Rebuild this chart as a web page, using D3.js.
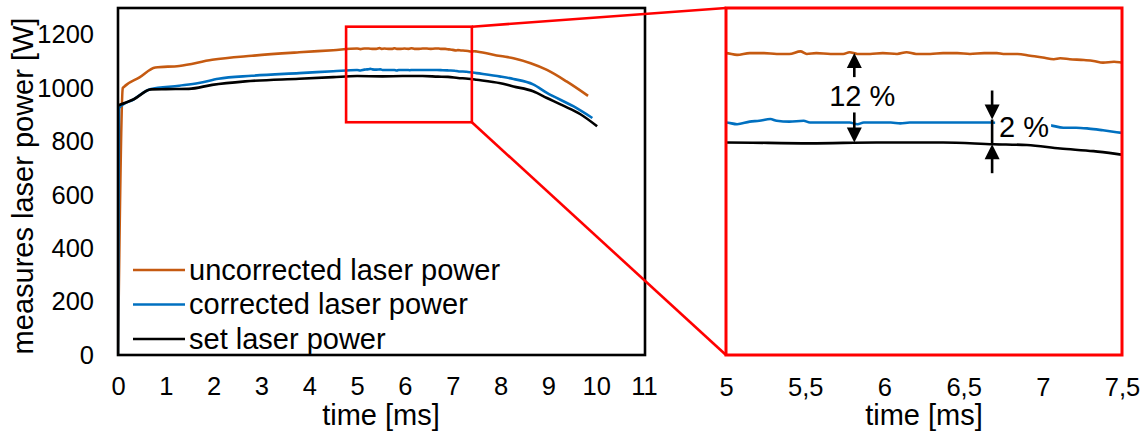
<!DOCTYPE html>
<html>
<head>
<meta charset="utf-8">
<script src="https://cdn.jsdelivr.net/npm/d3@7"></script>
<style>
  body { margin: 0; background: #fff; }
  svg { display: block; font-family: "Liberation Sans", Arial, sans-serif; }
</style>
</head>
<body>
<svg id="chart" width="1147" height="433"></svg>
<script>
// uncorrected laser power (orange)
var uncorrectedTime = [0, 0.1, 0.12, 0.45, 0.78, 1.28, 1.97, 2.8, 3.79, 4.5,
  5.0, 5.07, 5.15, 5.24, 5.32, 5.4, 5.47, 5.51, 5.57, 5.66, 5.74, 5.78, 5.83, 5.91, 5.99,
  6.08, 6.14, 6.2, 6.29, 6.37, 6.46, 6.54, 6.63, 6.71, 6.75, 6.84, 6.92, 7.0, 7.07, 7.11,
  7.17, 7.26, 7.32, 7.38, 7.45, 7.5, 8.0, 8.27, 8.63, 8.97, 9.38, 9.83];
var uncorrectedPower = [0, 1000, 1004, 1040, 1077, 1083, 1106, 1121, 1134, 1142,
  1148, 1146, 1148, 1148, 1147, 1147, 1150, 1147, 1148, 1147, 1147, 1149, 1147, 1147, 1148,
  1147, 1149, 1147, 1147, 1148, 1148, 1147, 1148, 1148, 1147, 1147, 1145, 1143, 1141, 1142,
  1141, 1140, 1139, 1137, 1138, 1137, 1120, 1112, 1093, 1068, 1025, 971];

// corrected laser power (blue)
var correctedTime = [0, 0.02, 0.33, 0.67, 1.28, 1.69, 2.1, 2.8, 3.79, 4.5,
  5.0, 5.07, 5.15, 5.21, 5.28, 5.32, 5.4, 5.49, 5.53, 5.61, 5.7, 5.78, 5.83, 5.87, 5.95,
  6.04, 6.1, 6.16, 6.25, 6.33, 6.41, 6.5, 6.58, 6.67, 6.79, 6.92, 7.04, 7.13, 7.21, 7.29,
  7.38, 7.5, 8.0, 8.27, 8.68, 8.97, 9.52, 9.92];
var correctedPower = [0, 925, 958, 996, 1009, 1019, 1035, 1046, 1056, 1063,
  1068, 1066, 1069, 1070, 1072, 1070, 1069, 1070, 1068, 1068, 1068, 1068, 1066, 1068, 1068,
  1068, 1067, 1068, 1068, 1068, 1068, 1068, 1068, 1068, 1067, 1066, 1065, 1062, 1062, 1061,
  1059, 1056, 1043, 1034, 1014, 982, 932, 888];

// set laser power (black)
var setTime = [0, 0.33, 0.69, 1.0, 1.48, 1.97, 2.66, 3.79, 4.5, 5.0, 5.53, 5.95, 6.37,
  6.69, 6.9, 7.11, 7.32, 7.5, 8.0, 8.27, 8.68, 8.97, 9.3, 9.67, 10.02];
var setPower = [935, 958, 995, 996, 997, 1012, 1025, 1035, 1041, 1045, 1044, 1045, 1045,
  1043, 1042, 1038, 1035, 1031, 1018, 1006, 988, 963, 935, 902, 857];

var timeTicks = [0, 1, 2, 3, 4, 5, 6, 7, 8, 9, 10, 11];
var powerTicks = [0, 200, 400, 600, 800, 1000, 1200];
var zoomTicks = [5, 5.5, 6, 6.5, 7, 7.5];
var zoomTickLabels = ['5', '5,5', '6', '6,5', '7', '7,5'];

// region marked in the overview [t0, t1, p0, p1]
var zoomRegion = [4.77, 7.4, 872, 1230];

// gap annotations: time, upper power, lower power, label
var gapTime = [5.81, 6.68];
var gapUpper = [1148, 1068];
var gapLower = [1045, 1043];
var gapLabels = ['12 %', '2 %'];

var series = [
  { name: 'uncorrected laser power', color: '#C55A11', t: uncorrectedTime, p: uncorrectedPower },
  { name: 'corrected laser power', color: '#0070C0', t: correctedTime, p: correctedPower },
  { name: 'set laser power', color: '#000000', t: setTime, p: setPower }
];

var svg = d3.select('#chart');
var tickFont = 25.5, labelFont = 29;

var x = d3.scaleLinear().domain([0, 11]).range([118, 644]);
var y = d3.scaleLinear().domain([0, 1300]).range([355, 8]);
var xz = d3.scaleLinear().domain([5, 7.5]).range([726, 1122]);
var yz = d3.scaleLinear().domain([800, 1200]).range([355, 8]);

var defs = svg.append('defs');
defs.append('clipPath').attr('id', 'clipL').append('rect')
  .attr('x', x(0)).attr('y', y(1300)).attr('width', x(11) - x(0) + 2).attr('height', y(0) - y(1300));
defs.append('clipPath').attr('id', 'clipR').append('rect')
  .attr('x', xz(5)).attr('y', yz(1200)).attr('width', xz(7.5) - xz(5)).attr('height', yz(800) - yz(1200));

function drawLines(g, sx, sy) {
  series.forEach(function(s) {
    var pts = s.t.map(function(t, i) { return [t, s.p[i]]; });
    g.append('path')
      .datum(pts)
      .attr('fill', 'none')
      .attr('stroke', s.color)
      .attr('stroke-width', 2.6)
      .attr('stroke-linejoin', 'round')
      .attr('d', d3.line()
        .curve(d3.curveMonotoneX)
        .x(function(d) { return sx(d[0]); })
        .y(function(d) { return sy(d[1]); }));
  });
}

function styleAxis(g, size) {
  g.select('.domain').remove();
  g.selectAll('text').attr('font-size', size).attr('font-family', null).attr('fill', '#000');
}

// overview
drawLines(svg.append('g').attr('clip-path', 'url(#clipL)'), x, y);

svg.append('g')
  .attr('transform', 'translate(0,' + y(0) + ')')
  .call(d3.axisBottom(x).tickValues(timeTicks).tickSize(0).tickPadding(22).tickFormat(d3.format('d')))
  .call(styleAxis, tickFont);

svg.append('g')
  .attr('transform', 'translate(' + x(0) + ',0)')
  .call(d3.axisLeft(y).tickValues(powerTicks).tickSize(0).tickPadding(24).tickFormat(d3.format('d')))
  .call(styleAxis, tickFont);

svg.append('rect')
  .attr('x', x(0)).attr('y', y(1300))
  .attr('width', x(11) - x(0) + 1).attr('height', y(0) - y(1300))
  .attr('fill', 'none').attr('stroke', '#000').attr('stroke-width', 2.6);

svg.append('text')
  .attr('x', (x(0) + x(11)) / 2).attr('y', 425)
  .attr('text-anchor', 'middle').attr('font-size', labelFont)
  .text('time [ms]');

svg.append('text')
  .attr('transform', 'translate(33,186) rotate(-90)')
  .attr('text-anchor', 'middle').attr('font-size', labelFont)
  .text('measures laser power [W]');

// legend
var legend = svg.append('g').selectAll('g')
  .data(series)
  .enter().append('g')
  .attr('transform', function(d, i) { return 'translate(133,' + (270 + i * 34.5) + ')'; });
legend.append('line')
  .attr('x1', 0).attr('x2', 52)
  .attr('stroke', function(d) { return d.color; }).attr('stroke-width', 2.6);
legend.append('text')
  .attr('x', 56).attr('y', 9.5)
  .attr('font-size', labelFont)
  .text(function(d) { return d.name; });

// zoom marker + connectors
var bx0 = x(zoomRegion[0]), bx1 = x(zoomRegion[1]);
var by0 = y(zoomRegion[3]), by1 = y(zoomRegion[2]);
svg.append('line')
  .attr('x1', bx1).attr('y1', by0).attr('x2', xz(5)).attr('y2', yz(1200))
  .attr('stroke', '#FF0000').attr('stroke-width', 2.6);
svg.append('line')
  .attr('x1', bx1).attr('y1', by1).attr('x2', xz(5)).attr('y2', yz(800))
  .attr('stroke', '#FF0000').attr('stroke-width', 2.6);
svg.append('rect')
  .attr('x', bx0).attr('y', by0).attr('width', bx1 - bx0).attr('height', by1 - by0)
  .attr('fill', 'none').attr('stroke', '#FF0000').attr('stroke-width', 2.6);

// zoomed panel
drawLines(svg.append('g').attr('clip-path', 'url(#clipR)'), xz, yz);

svg.append('g')
  .attr('transform', 'translate(0,' + yz(800) + ')')
  .call(d3.axisBottom(xz).tickValues(zoomTicks).tickSize(0).tickPadding(23)
    .tickFormat(function(d, i) { return zoomTickLabels[i]; }))
  .call(styleAxis, tickFont);

svg.append('text')
  .attr('x', (xz(5) + xz(7.5)) / 2).attr('y', 425)
  .attr('text-anchor', 'middle').attr('font-size', labelFont)
  .text('time [ms]');

// gap arrows
function arrow(g, ax, tip, tail) {
  var dir = tail > tip ? 1 : -1;
  g.append('line')
    .attr('x1', ax).attr('x2', ax).attr('y1', tail).attr('y2', tip + dir * 12)
    .attr('stroke', '#000').attr('stroke-width', 2.6);
  g.append('path')
    .attr('d', 'M' + ax + ',' + tip + 'L' + (ax - 7.5) + ',' + (tip + dir * 15) +
      'L' + (ax + 7.5) + ',' + (tip + dir * 15) + 'Z')
    .attr('fill', '#000');
}

var ann = svg.append('g');

// 12 %
var a0 = xz(gapTime[0]);
arrow(ann, a0, yz(gapUpper[0]), yz(gapUpper[0]) + 24);
arrow(ann, a0, yz(gapLower[0]), yz(gapLower[0]) - 30);
ann.append('text')
  .attr('x', a0 + 8).attr('y', 106)
  .attr('text-anchor', 'middle').attr('font-size', labelFont)
  .text(gapLabels[0]);

// 2 %
var a1 = xz(gapTime[1]);
ann.append('rect')
  .attr('x', a1 + 3).attr('y', 110).attr('width', 56).attr('height', 29)
  .attr('fill', '#fff');
arrow(ann, a1, yz(gapUpper[1]) - 3, yz(gapUpper[1]) - 32);
arrow(ann, a1, yz(gapLower[1]), yz(gapLower[1]) + 29);
ann.append('line')
  .attr('x1', a1).attr('x2', a1).attr('y1', yz(gapUpper[1]) - 3).attr('y2', yz(gapLower[1]))
  .attr('stroke', '#000').attr('stroke-width', 2.6);
ann.append('text')
  .attr('x', a1 + 7).attr('y', 137)
  .attr('font-size', labelFont)
  .text(gapLabels[1]);

svg.append('rect')
  .attr('x', xz(5)).attr('y', yz(1200))
  .attr('width', xz(7.5) - xz(5)).attr('height', yz(800) - yz(1200))
  .attr('fill', 'none').attr('stroke', '#FF0000').attr('stroke-width', 3);
</script>
</body>
</html>
